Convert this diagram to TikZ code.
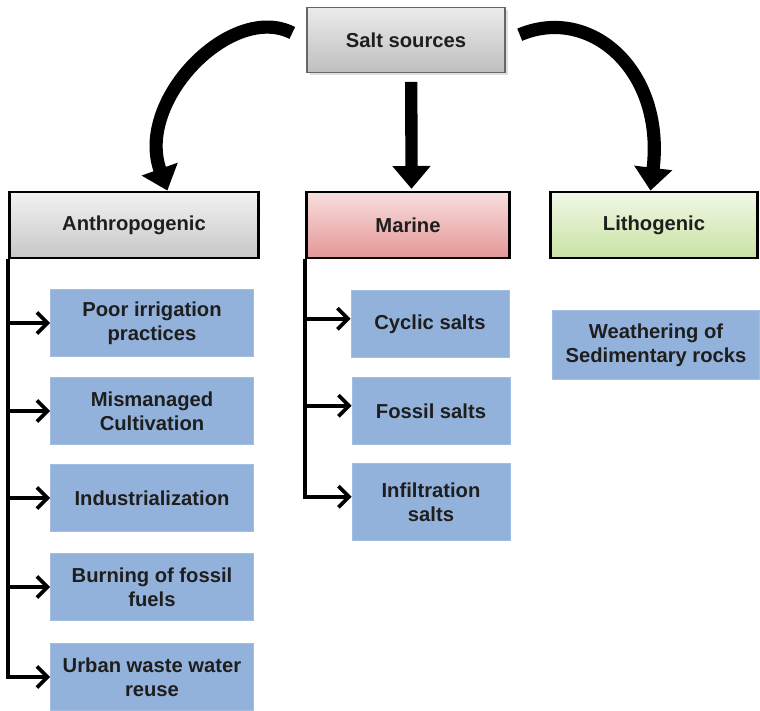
\documentclass[tikz,border=0pt]{standalone}
\usepackage{fontspec}
\setmainfont{Liberation Sans}
\usepackage{tikz}
\usetikzlibrary{arrows,calc,positioning}
\usetikzlibrary{arrows.meta,shadows}
\definecolor{boxblue}{RGB}{147,178,219}
\definecolor{inkgray}{RGB}{30,30,30}
\definecolor{pinktop}{RGB}{247,222,222}
\definecolor{pinkbot}{RGB}{229,150,150}
\definecolor{greentop}{RGB}{242,248,232}
\definecolor{greenbot}{RGB}{200,226,162}
\tikzset{
	block/.style = {rectangle, align=center, text=inkgray,
		font=\fontsize{11.5}{13.8}\selectfont\bfseries},
	headblock/.style = {block, draw=black, line width=1.6pt,
		minimum height=1.32cm},
	leafblock/.style = {block, fill=boxblue, draw=boxblue!85!white, line width=0.4pt,
		minimum height=1.34cm},
	bigarrow/.style = {draw, line width=7.5pt, -{Triangle[width=21pt,length=13pt]}},
	treearrow/.style = {draw, line width=2.1pt, -{Straight Barb[length=6pt,width=12pt]}},
}

\begin{document}
\begin{tikzpicture}[
	x=0.02cm, y=-0.02cm,
	sourcenode/.style={block, draw=black!60, line width=0.8pt, top color=white!92!black,
		bottom color=black!25, minimum width=3.96cm, minimum height=1.3cm,
		drop shadow={opacity=0.25, shadow xshift=1.5pt, shadow yshift=-1.5pt}},
	graynode/.style={headblock, top color=black!5, bottom color=black!22},
	rednode/.style={headblock, top color=pinktop, bottom color=pinkbot},
	greennode/.style={headblock, top color=greentop, bottom color=greenbot},
	]
	\useasboundingbox (0,0) rectangle (760,710);
	%Nodes
	\node[sourcenode]      (salt)     at (406,40)    {Salt sources};
	\node[graynode, minimum width=4.98cm]     (anthro)   at (134,225)   {Anthropogenic};
	\node[rednode, minimum width=4.06cm]      (marine)   at (408,225)   {Marine};
	\node[greennode, minimum width=4.14cm]    (litho)    at (654,225)   {Lithogenic};
	% anthropogenic sources
	\node[leafblock, minimum width=4.06cm]    (poor)     at (152,323)   {Poor irrigation\\practices};
	\node[leafblock, minimum width=4.06cm]    (misman)   at (152,411)   {Mismanaged\\Cultivation};
	\node[leafblock, minimum width=4.06cm]    (indus)    at (152,498)   {Industrialization};
	\node[leafblock, minimum width=4.06cm]    (burn)     at (152,587)   {Burning of fossil\\fuels};
	\node[leafblock, minimum width=4.06cm]    (urban)    at (152,677)   {Urban waste water\\reuse};
	% marine sources
	\node[leafblock, minimum width=3.16cm]    (cyclic)   at (430,324)   {Cyclic salts};
	\node[leafblock, minimum width=3.16cm]    (fossil)   at (431,411)   {Fossil salts};
	\node[leafblock, minimum width=3.16cm, minimum height=1.54cm] (infil) at (431,502) {Infiltration\\salts};
	% lithogenic sources
	\node[leafblock, minimum width=4.14cm, minimum height=1.38cm] (weather) at (656,345) {Weathering of\\Sedimentary rocks};
	%Lines
	\draw[bigarrow] ([xshift=-8pt,yshift=4pt]salt.west) .. controls (232,2) and (135,100) .. ([xshift=19pt]anthro.north);
	\draw[bigarrow] ([xshift=8pt,yshift=3pt]salt.east) .. controls (590,5) and (665,70) .. ([xshift=-2pt]litho.north);
	\draw[bigarrow, line width=7pt] ([xshift=3pt,yshift=-5pt]salt.south) -- ([xshift=2pt,yshift=1pt]marine.north);
	\foreach \leaf in {poor,misman,indus,burn,urban}
		\draw[treearrow] (anthro.south west) |- (\leaf.west);
	\foreach \leaf in {cyclic,fossil,infil}
		\draw[treearrow] (marine.south west) |- ([yshift=3pt]\leaf.west);
\end{tikzpicture}
\end{document}
